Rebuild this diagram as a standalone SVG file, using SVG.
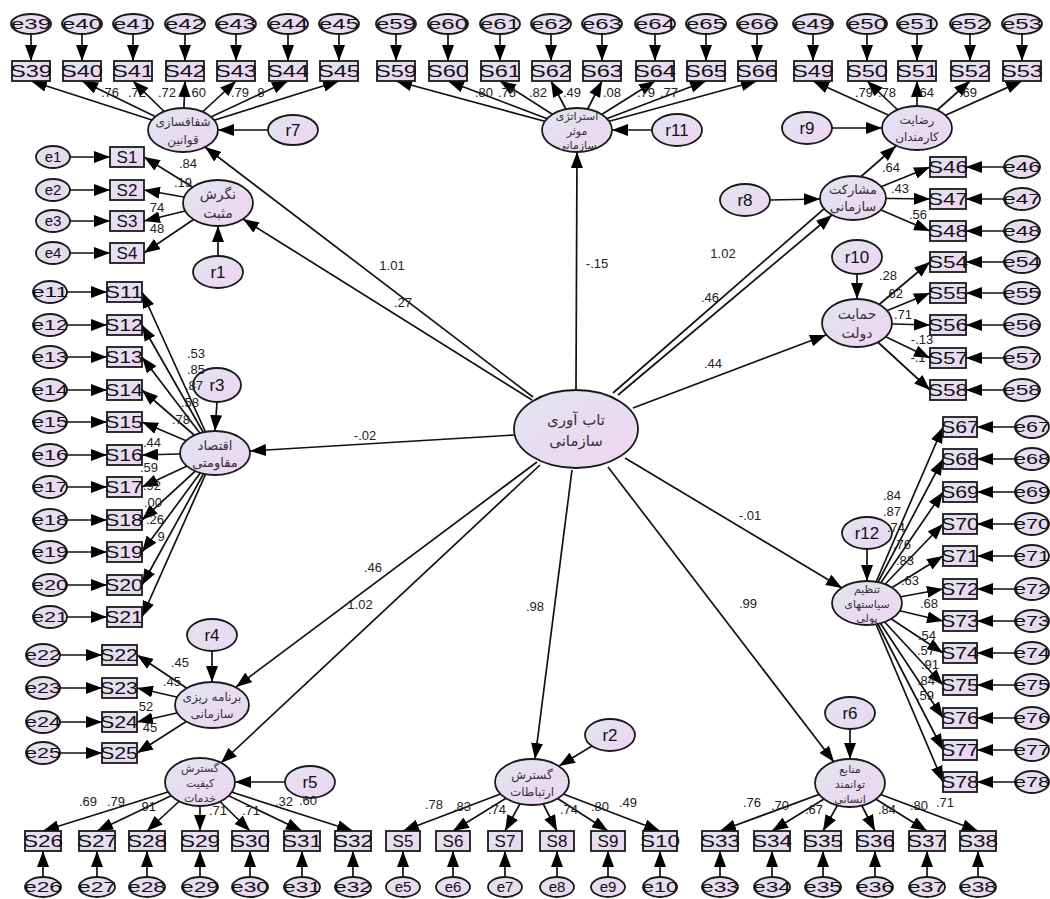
<svg xmlns="http://www.w3.org/2000/svg" width="1050" height="899" viewBox="0 0 1050 899">
<defs>
<linearGradient id="g" x1="0" y1="0" x2="1" y2="1"><stop offset="0" stop-color="#e1e5ef"/><stop offset="1" stop-color="#eed4f2"/></linearGradient>
<marker id="ah" markerUnits="userSpaceOnUse" markerWidth="16" markerHeight="12" refX="16" refY="6" orient="auto"><path d="M0,0 L16,6 L0,12 z" fill="#000"/></marker>
<style>
.n rect,.n ellipse{fill:url(#g);stroke:#1a1a1a;stroke-width:1.8}
.c line{stroke:#111;stroke-width:1.7;marker-end:url(#ah)}
.t{font-family:"Liberation Sans",Arial,sans-serif;fill:#111;text-anchor:middle}
.s{font-size:17px}
.e{font-size:15px}
.r{font-size:17px}
.num{font-family:"Liberation Sans",Arial,sans-serif;font-size:13px;fill:#222;text-anchor:middle}
.fa{font-family:"DejaVu Sans","Noto Sans",sans-serif;fill:#333;text-anchor:middle}
</style>
</defs>
<rect width="1050" height="899" fill="#fff"/>
<g id="connectors" class="c">
<line x1="533" y1="397" x2="205" y2="147"/>
<line x1="532" y1="400" x2="243" y2="219"/>
<line x1="576" y1="390" x2="577" y2="152"/>
<line x1="613" y1="393" x2="896" y2="146"/>
<line x1="618" y1="395" x2="832" y2="215"/>
<line x1="633" y1="408" x2="826" y2="335"/>
<line x1="514" y1="435" x2="250" y2="451"/>
<line x1="537" y1="462" x2="236" y2="687"/>
<line x1="540" y1="465" x2="221" y2="763"/>
<line x1="572" y1="470" x2="535" y2="759"/>
<line x1="608" y1="467" x2="834" y2="762"/>
<line x1="625" y1="458" x2="842" y2="588"/>
<line x1="268" y1="130" x2="218" y2="130"/>
<line x1="218" y1="256" x2="218" y2="226"/>
<line x1="217" y1="402" x2="215" y2="431"/>
<line x1="212" y1="651" x2="212" y2="682"/>
<line x1="285" y1="782" x2="235" y2="782"/>
<line x1="592" y1="746" x2="559" y2="766"/>
<line x1="850" y1="729" x2="850" y2="759"/>
<line x1="867" y1="549" x2="867" y2="581"/>
<line x1="857" y1="274" x2="857" y2="299"/>
<line x1="770" y1="200" x2="820" y2="199"/>
<line x1="832" y1="128" x2="882" y2="128"/>
<line x1="652" y1="130" x2="612" y2="130"/>
<line x1="183" y1="130" x2="31" y2="81"/><line x1="183" y1="130" x2="82" y2="81"/><line x1="183" y1="130" x2="133" y2="81"/><line x1="183" y1="130" x2="185" y2="81"/><line x1="183" y1="130" x2="236" y2="81"/><line x1="183" y1="130" x2="288" y2="81"/><line x1="183" y1="130" x2="339" y2="81"/>
<line x1="577" y1="130" x2="396" y2="81"/><line x1="577" y1="130" x2="448" y2="81"/><line x1="577" y1="130" x2="500" y2="81"/><line x1="577" y1="130" x2="551" y2="81"/><line x1="577" y1="130" x2="602" y2="81"/><line x1="577" y1="130" x2="655" y2="81"/><line x1="577" y1="130" x2="706" y2="81"/><line x1="577" y1="130" x2="757" y2="81"/>
<line x1="917" y1="128" x2="813" y2="81"/><line x1="917" y1="128" x2="867" y2="81"/><line x1="917" y1="128" x2="917" y2="81"/><line x1="917" y1="128" x2="970" y2="81"/><line x1="917" y1="128" x2="1022" y2="81"/>
<line x1="218" y1="203" x2="144" y2="157"/><line x1="218" y1="203" x2="144" y2="190"/><line x1="218" y1="203" x2="144" y2="221"/><line x1="218" y1="203" x2="144" y2="253"/>
<line x1="215" y1="453" x2="142" y2="292"/><line x1="215" y1="453" x2="142" y2="325"/><line x1="215" y1="453" x2="142" y2="357"/><line x1="215" y1="453" x2="142" y2="390"/><line x1="215" y1="453" x2="142" y2="422"/><line x1="215" y1="453" x2="142" y2="455"/><line x1="215" y1="453" x2="142" y2="487"/><line x1="215" y1="453" x2="142" y2="520"/><line x1="215" y1="453" x2="142" y2="552"/><line x1="215" y1="453" x2="142" y2="585"/><line x1="215" y1="453" x2="142" y2="617"/>
<line x1="212" y1="705" x2="137" y2="655"/><line x1="212" y1="705" x2="137" y2="688"/><line x1="212" y1="705" x2="137" y2="722"/><line x1="212" y1="705" x2="137" y2="753"/>
<line x1="200" y1="782" x2="43" y2="831"/><line x1="200" y1="782" x2="97" y2="831"/><line x1="200" y1="782" x2="147" y2="831"/><line x1="200" y1="782" x2="200" y2="831"/><line x1="200" y1="782" x2="250" y2="831"/><line x1="200" y1="782" x2="302" y2="831"/><line x1="200" y1="782" x2="353" y2="831"/>
<line x1="532" y1="782" x2="403" y2="831"/><line x1="532" y1="782" x2="453" y2="831"/><line x1="532" y1="782" x2="505" y2="831"/><line x1="532" y1="782" x2="557" y2="831"/><line x1="532" y1="782" x2="608" y2="831"/><line x1="532" y1="782" x2="660" y2="831"/>
<line x1="850" y1="783" x2="720" y2="831"/><line x1="850" y1="783" x2="772" y2="831"/><line x1="850" y1="783" x2="823" y2="831"/><line x1="850" y1="783" x2="875" y2="831"/><line x1="850" y1="783" x2="927" y2="831"/><line x1="850" y1="783" x2="978" y2="831"/>
<line x1="867" y1="603" x2="943" y2="427"/><line x1="867" y1="603" x2="943" y2="459"/><line x1="867" y1="603" x2="943" y2="492"/><line x1="867" y1="603" x2="943" y2="524"/><line x1="867" y1="603" x2="943" y2="556"/><line x1="867" y1="603" x2="943" y2="589"/><line x1="867" y1="603" x2="943" y2="621"/><line x1="867" y1="603" x2="943" y2="653"/><line x1="867" y1="603" x2="943" y2="685"/><line x1="867" y1="603" x2="943" y2="718"/><line x1="867" y1="603" x2="943" y2="750"/><line x1="867" y1="603" x2="943" y2="782"/>
<line x1="857" y1="323" x2="930" y2="262"/><line x1="857" y1="323" x2="930" y2="293"/><line x1="857" y1="323" x2="930" y2="325"/><line x1="857" y1="323" x2="930" y2="358"/><line x1="857" y1="323" x2="930" y2="390"/>
<line x1="853" y1="198" x2="930" y2="167"/><line x1="853" y1="198" x2="930" y2="199"/><line x1="853" y1="198" x2="930" y2="231"/>
<line x1="31" y1="34" x2="31" y2="61"/><line x1="82" y1="34" x2="82" y2="61"/><line x1="133" y1="34" x2="133" y2="61"/><line x1="185" y1="34" x2="185" y2="61"/><line x1="236" y1="34" x2="236" y2="61"/><line x1="288" y1="34" x2="288" y2="61"/><line x1="339" y1="34" x2="339" y2="61"/>
<line x1="396" y1="34" x2="396" y2="61"/><line x1="448" y1="34" x2="448" y2="61"/><line x1="500" y1="34" x2="500" y2="61"/><line x1="551" y1="34" x2="551" y2="61"/><line x1="602" y1="34" x2="602" y2="61"/><line x1="655" y1="34" x2="655" y2="61"/><line x1="706" y1="34" x2="706" y2="61"/><line x1="757" y1="34" x2="757" y2="61"/>
<line x1="813" y1="34" x2="813" y2="61"/><line x1="867" y1="34" x2="867" y2="61"/><line x1="917" y1="34" x2="917" y2="61"/><line x1="970" y1="34" x2="970" y2="61"/><line x1="1022" y1="34" x2="1022" y2="61"/>
<line x1="70" y1="157" x2="110" y2="157"/><line x1="70" y1="190" x2="110" y2="190"/><line x1="70" y1="221" x2="110" y2="221"/><line x1="70" y1="253" x2="110" y2="253"/>
<line x1="67" y1="292" x2="107" y2="292"/><line x1="67" y1="325" x2="107" y2="325"/><line x1="67" y1="357" x2="107" y2="357"/><line x1="67" y1="390" x2="107" y2="390"/><line x1="67" y1="422" x2="107" y2="422"/><line x1="67" y1="455" x2="107" y2="455"/><line x1="67" y1="487" x2="107" y2="487"/><line x1="67" y1="520" x2="107" y2="520"/><line x1="67" y1="552" x2="107" y2="552"/><line x1="67" y1="585" x2="107" y2="585"/><line x1="67" y1="617" x2="107" y2="617"/>
<line x1="60" y1="655" x2="102" y2="655"/><line x1="60" y1="688" x2="102" y2="688"/><line x1="60" y1="722" x2="102" y2="722"/><line x1="60" y1="753" x2="102" y2="753"/>
<line x1="43" y1="877" x2="43" y2="851"/><line x1="97" y1="877" x2="97" y2="851"/><line x1="147" y1="877" x2="147" y2="851"/><line x1="200" y1="877" x2="200" y2="851"/><line x1="250" y1="877" x2="250" y2="851"/><line x1="302" y1="877" x2="302" y2="851"/><line x1="353" y1="877" x2="353" y2="851"/>
<line x1="403" y1="877" x2="403" y2="851"/><line x1="453" y1="877" x2="453" y2="851"/><line x1="505" y1="877" x2="505" y2="851"/><line x1="557" y1="877" x2="557" y2="851"/><line x1="608" y1="877" x2="608" y2="851"/><line x1="660" y1="877" x2="660" y2="851"/>
<line x1="720" y1="877" x2="720" y2="851"/><line x1="772" y1="877" x2="772" y2="851"/><line x1="823" y1="877" x2="823" y2="851"/><line x1="875" y1="877" x2="875" y2="851"/><line x1="927" y1="877" x2="927" y2="851"/><line x1="978" y1="877" x2="978" y2="851"/>
<line x1="1015" y1="427" x2="977" y2="427"/><line x1="1015" y1="459" x2="977" y2="459"/><line x1="1015" y1="492" x2="977" y2="492"/><line x1="1015" y1="524" x2="977" y2="524"/><line x1="1015" y1="556" x2="977" y2="556"/><line x1="1015" y1="589" x2="977" y2="589"/><line x1="1015" y1="621" x2="977" y2="621"/><line x1="1015" y1="653" x2="977" y2="653"/><line x1="1015" y1="685" x2="977" y2="685"/><line x1="1015" y1="718" x2="977" y2="718"/><line x1="1015" y1="750" x2="977" y2="750"/><line x1="1015" y1="782" x2="977" y2="782"/>
<line x1="1004" y1="262" x2="966" y2="262"/><line x1="1004" y1="293" x2="966" y2="293"/><line x1="1004" y1="325" x2="966" y2="325"/><line x1="1004" y1="358" x2="966" y2="358"/><line x1="1004" y1="390" x2="966" y2="390"/>
<line x1="1004" y1="167" x2="966" y2="167"/><line x1="1004" y1="199" x2="966" y2="199"/><line x1="1004" y1="231" x2="966" y2="231"/>
</g>
<g class="n">
<g id="center"><ellipse cx="576" cy="429" rx="62" ry="39"/><text class="fa" x="576" y="425" font-size="15">تاب آوری</text><text class="fa" x="576" y="446" font-size="15">سازمانی</text></g>
<g id="L1"><ellipse cx="183" cy="130" rx="35" ry="22"/><text class="fa" x="183" y="126" font-size="12">شفافسازی</text><text class="fa" x="183" y="144" font-size="12">قوانین</text></g>
<g id="L2"><ellipse cx="218" cy="203" rx="35" ry="23"/><text class="fa" x="218" y="199" font-size="14">نگرش</text><text class="fa" x="218" y="218" font-size="14">مثبت</text></g>
<g id="L3"><ellipse cx="215" cy="453" rx="35" ry="22"/><text class="fa" x="215" y="450" font-size="13">اقتصاد</text><text class="fa" x="215" y="467" font-size="13">مقاومتی</text></g>
<g id="L4"><ellipse cx="212" cy="705" rx="37" ry="23"/><text class="fa" x="212" y="701" font-size="12">برنامه ریزی</text><text class="fa" x="212" y="718" font-size="12">سازمانی</text></g>
<g id="L5"><ellipse cx="200" cy="782" rx="35" ry="24"/><text class="fa" x="200" y="772" font-size="11">گسترش</text><text class="fa" x="200" y="787" font-size="11">کیفیت</text><text class="fa" x="200" y="802" font-size="11">خدمات</text></g>
<g id="L6"><ellipse cx="532" cy="782" rx="37" ry="23"/><text class="fa" x="532" y="779" font-size="12">گسترش</text><text class="fa" x="532" y="796" font-size="12">ارتباطات</text></g>
<g id="L7"><ellipse cx="850" cy="783" rx="35" ry="24"/><text class="fa" x="850" y="773" font-size="11">منابع</text><text class="fa" x="850" y="788" font-size="11">توانمند</text><text class="fa" x="850" y="803" font-size="11">انسانی</text></g>
<g id="L8"><ellipse cx="867" cy="603" rx="35" ry="22"/><text class="fa" x="867" y="593" font-size="11">تنظیم</text><text class="fa" x="867" y="608" font-size="11">سیاستهای</text><text class="fa" x="867" y="622" font-size="11">پولی</text></g>
<g id="L9"><ellipse cx="857" cy="323" rx="35" ry="24"/><text class="fa" x="857" y="319" font-size="14">حمایت</text><text class="fa" x="857" y="338" font-size="14">دولت</text></g>
<g id="L10"><ellipse cx="853" cy="198" rx="33" ry="22"/><text class="fa" x="853" y="194" font-size="13">مشارکت</text><text class="fa" x="853" y="211" font-size="13">سازمانی</text></g>
<g id="L11"><ellipse cx="917" cy="128" rx="35" ry="22"/><text class="fa" x="917" y="124" font-size="12">رضایت</text><text class="fa" x="917" y="141" font-size="12">کارمندان</text></g>
<g id="L12"><ellipse cx="577" cy="130" rx="35" ry="22"/><text class="fa" x="577" y="120" font-size="11">استراتژی</text><text class="fa" x="577" y="135" font-size="11">موثر</text><text class="fa" x="577" y="149" font-size="11">سازمانی</text></g>
<g id="r7"><ellipse cx="293" cy="130" rx="25" ry="15"/><text class="t r" x="293" y="136">r7</text></g>
<g id="r1"><ellipse cx="218" cy="272" rx="25" ry="16"/><text class="t r" x="218" y="278">r1</text></g>
<g id="r3"><ellipse cx="217" cy="385" rx="24" ry="17"/><text class="t r" x="217" y="391">r3</text></g>
<g id="r4"><ellipse cx="212" cy="635" rx="25" ry="16"/><text class="t r" x="212" y="641">r4</text></g>
<g id="r5"><ellipse cx="310" cy="782" rx="25" ry="16"/><text class="t r" x="310" y="788">r5</text></g>
<g id="r2"><ellipse cx="610" cy="735" rx="25" ry="16"/><text class="t r" x="610" y="741">r2</text></g>
<g id="r6"><ellipse cx="850" cy="713" rx="25" ry="16"/><text class="t r" x="850" y="719">r6</text></g>
<g id="r12"><ellipse cx="867" cy="533" rx="25" ry="16"/><text class="t r" x="867" y="539">r12</text></g>
<g id="r10"><ellipse cx="857" cy="257" rx="25" ry="17"/><text class="t r" x="857" y="263">r10</text></g>
<g id="r8"><ellipse cx="745" cy="200" rx="25" ry="16"/><text class="t r" x="745" y="206">r8</text></g>
<g id="r9"><ellipse cx="807" cy="128" rx="25" ry="16"/><text class="t r" x="807" y="134">r9</text></g>
<g id="r11"><ellipse cx="677" cy="130" rx="25" ry="16"/><text class="t r" x="677" y="136">r11</text></g>

<g id="S39"><rect x="12" y="61" width="38" height="20"/><text class="t s" x="31" y="77" textLength="42" lengthAdjust="spacingAndGlyphs">S39</text></g>
<g id="S40"><rect x="63" y="61" width="38" height="20"/><text class="t s" x="82" y="77" textLength="42" lengthAdjust="spacingAndGlyphs">S40</text></g>
<g id="S41"><rect x="114" y="61" width="38" height="20"/><text class="t s" x="133" y="77" textLength="42" lengthAdjust="spacingAndGlyphs">S41</text></g>
<g id="S42"><rect x="166" y="61" width="38" height="20"/><text class="t s" x="185" y="77" textLength="42" lengthAdjust="spacingAndGlyphs">S42</text></g>
<g id="S43"><rect x="217" y="61" width="38" height="20"/><text class="t s" x="236" y="77" textLength="42" lengthAdjust="spacingAndGlyphs">S43</text></g>
<g id="S44"><rect x="269" y="61" width="38" height="20"/><text class="t s" x="288" y="77" textLength="42" lengthAdjust="spacingAndGlyphs">S44</text></g>
<g id="S45"><rect x="320" y="61" width="38" height="20"/><text class="t s" x="339" y="77" textLength="42" lengthAdjust="spacingAndGlyphs">S45</text></g>
<g id="e39"><ellipse cx="31" cy="24" rx="20" ry="10"/><text class="t e" x="31" y="29" textLength="40" lengthAdjust="spacingAndGlyphs">e39</text></g>
<g id="e40"><ellipse cx="82" cy="24" rx="20" ry="10"/><text class="t e" x="82" y="29" textLength="40" lengthAdjust="spacingAndGlyphs">e40</text></g>
<g id="e41"><ellipse cx="133" cy="24" rx="20" ry="10"/><text class="t e" x="133" y="29" textLength="40" lengthAdjust="spacingAndGlyphs">e41</text></g>
<g id="e42"><ellipse cx="185" cy="24" rx="20" ry="10"/><text class="t e" x="185" y="29" textLength="40" lengthAdjust="spacingAndGlyphs">e42</text></g>
<g id="e43"><ellipse cx="236" cy="24" rx="20" ry="10"/><text class="t e" x="236" y="29" textLength="40" lengthAdjust="spacingAndGlyphs">e43</text></g>
<g id="e44"><ellipse cx="288" cy="24" rx="20" ry="10"/><text class="t e" x="288" y="29" textLength="40" lengthAdjust="spacingAndGlyphs">e44</text></g>
<g id="e45"><ellipse cx="339" cy="24" rx="20" ry="10"/><text class="t e" x="339" y="29" textLength="40" lengthAdjust="spacingAndGlyphs">e45</text></g>

<g id="S59"><rect x="377" y="61" width="38" height="20"/><text class="t s" x="396" y="77" textLength="42" lengthAdjust="spacingAndGlyphs">S59</text></g>
<g id="S60"><rect x="429" y="61" width="38" height="20"/><text class="t s" x="448" y="77" textLength="42" lengthAdjust="spacingAndGlyphs">S60</text></g>
<g id="S61"><rect x="481" y="61" width="38" height="20"/><text class="t s" x="500" y="77" textLength="42" lengthAdjust="spacingAndGlyphs">S61</text></g>
<g id="S62"><rect x="532" y="61" width="38" height="20"/><text class="t s" x="551" y="77" textLength="42" lengthAdjust="spacingAndGlyphs">S62</text></g>
<g id="S63"><rect x="583" y="61" width="38" height="20"/><text class="t s" x="602" y="77" textLength="42" lengthAdjust="spacingAndGlyphs">S63</text></g>
<g id="S64"><rect x="636" y="61" width="38" height="20"/><text class="t s" x="655" y="77" textLength="42" lengthAdjust="spacingAndGlyphs">S64</text></g>
<g id="S65"><rect x="687" y="61" width="38" height="20"/><text class="t s" x="706" y="77" textLength="42" lengthAdjust="spacingAndGlyphs">S65</text></g>
<g id="S66"><rect x="738" y="61" width="38" height="20"/><text class="t s" x="757" y="77" textLength="42" lengthAdjust="spacingAndGlyphs">S66</text></g>
<g id="e59"><ellipse cx="396" cy="24" rx="20" ry="10"/><text class="t e" x="396" y="29" textLength="40" lengthAdjust="spacingAndGlyphs">e59</text></g>
<g id="e60"><ellipse cx="448" cy="24" rx="20" ry="10"/><text class="t e" x="448" y="29" textLength="40" lengthAdjust="spacingAndGlyphs">e60</text></g>
<g id="e61"><ellipse cx="500" cy="24" rx="20" ry="10"/><text class="t e" x="500" y="29" textLength="40" lengthAdjust="spacingAndGlyphs">e61</text></g>
<g id="e62"><ellipse cx="551" cy="24" rx="20" ry="10"/><text class="t e" x="551" y="29" textLength="40" lengthAdjust="spacingAndGlyphs">e62</text></g>
<g id="e63"><ellipse cx="602" cy="24" rx="20" ry="10"/><text class="t e" x="602" y="29" textLength="40" lengthAdjust="spacingAndGlyphs">e63</text></g>
<g id="e64"><ellipse cx="655" cy="24" rx="20" ry="10"/><text class="t e" x="655" y="29" textLength="40" lengthAdjust="spacingAndGlyphs">e64</text></g>
<g id="e65"><ellipse cx="706" cy="24" rx="20" ry="10"/><text class="t e" x="706" y="29" textLength="40" lengthAdjust="spacingAndGlyphs">e65</text></g>
<g id="e66"><ellipse cx="757" cy="24" rx="20" ry="10"/><text class="t e" x="757" y="29" textLength="40" lengthAdjust="spacingAndGlyphs">e66</text></g>

<g id="S49"><rect x="794" y="61" width="38" height="20"/><text class="t s" x="813" y="77" textLength="42" lengthAdjust="spacingAndGlyphs">S49</text></g>
<g id="S50"><rect x="848" y="61" width="38" height="20"/><text class="t s" x="867" y="77" textLength="42" lengthAdjust="spacingAndGlyphs">S50</text></g>
<g id="S51"><rect x="898" y="61" width="38" height="20"/><text class="t s" x="917" y="77" textLength="42" lengthAdjust="spacingAndGlyphs">S51</text></g>
<g id="S52"><rect x="951" y="61" width="38" height="20"/><text class="t s" x="970" y="77" textLength="42" lengthAdjust="spacingAndGlyphs">S52</text></g>
<g id="S53"><rect x="1003" y="61" width="38" height="20"/><text class="t s" x="1022" y="77" textLength="42" lengthAdjust="spacingAndGlyphs">S53</text></g>
<g id="e49"><ellipse cx="813" cy="24" rx="20" ry="10"/><text class="t e" x="813" y="29" textLength="40" lengthAdjust="spacingAndGlyphs">e49</text></g>
<g id="e50"><ellipse cx="867" cy="24" rx="20" ry="10"/><text class="t e" x="867" y="29" textLength="40" lengthAdjust="spacingAndGlyphs">e50</text></g>
<g id="e51"><ellipse cx="917" cy="24" rx="20" ry="10"/><text class="t e" x="917" y="29" textLength="40" lengthAdjust="spacingAndGlyphs">e51</text></g>
<g id="e52"><ellipse cx="970" cy="24" rx="20" ry="10"/><text class="t e" x="970" y="29" textLength="40" lengthAdjust="spacingAndGlyphs">e52</text></g>
<g id="e53"><ellipse cx="1022" cy="24" rx="20" ry="10"/><text class="t e" x="1022" y="29" textLength="40" lengthAdjust="spacingAndGlyphs">e53</text></g>

<g id="S1"><rect x="110" y="147" width="34" height="20"/><text class="t s" x="127" y="163">S1</text></g>
<g id="S2"><rect x="110" y="180" width="34" height="20"/><text class="t s" x="127" y="196">S2</text></g>
<g id="S3"><rect x="110" y="211" width="34" height="20"/><text class="t s" x="127" y="227">S3</text></g>
<g id="S4"><rect x="110" y="243" width="34" height="20"/><text class="t s" x="127" y="259">S4</text></g>
<g id="e1"><ellipse cx="53" cy="157" rx="17" ry="11"/><text class="t e" x="53" y="162">e1</text></g>
<g id="e2"><ellipse cx="53" cy="190" rx="17" ry="11"/><text class="t e" x="53" y="195">e2</text></g>
<g id="e3"><ellipse cx="53" cy="221" rx="17" ry="11"/><text class="t e" x="53" y="226">e3</text></g>
<g id="e4"><ellipse cx="53" cy="253" rx="17" ry="11"/><text class="t e" x="53" y="258">e4</text></g>

<g id="S11"><rect x="107" y="282" width="35" height="20"/><text class="t s" x="124" y="298" textLength="38" lengthAdjust="spacingAndGlyphs">S11</text></g>
<g id="S12"><rect x="107" y="315" width="35" height="20"/><text class="t s" x="124" y="331" textLength="38" lengthAdjust="spacingAndGlyphs">S12</text></g>
<g id="S13"><rect x="107" y="347" width="35" height="20"/><text class="t s" x="124" y="363" textLength="38" lengthAdjust="spacingAndGlyphs">S13</text></g>
<g id="S14"><rect x="107" y="380" width="35" height="20"/><text class="t s" x="124" y="396" textLength="38" lengthAdjust="spacingAndGlyphs">S14</text></g>
<g id="S15"><rect x="107" y="412" width="35" height="20"/><text class="t s" x="124" y="428" textLength="38" lengthAdjust="spacingAndGlyphs">S15</text></g>
<g id="S16"><rect x="107" y="445" width="35" height="20"/><text class="t s" x="124" y="461" textLength="38" lengthAdjust="spacingAndGlyphs">S16</text></g>
<g id="S17"><rect x="107" y="477" width="35" height="20"/><text class="t s" x="124" y="493" textLength="38" lengthAdjust="spacingAndGlyphs">S17</text></g>
<g id="S18"><rect x="107" y="510" width="35" height="20"/><text class="t s" x="124" y="526" textLength="38" lengthAdjust="spacingAndGlyphs">S18</text></g>
<g id="S19"><rect x="107" y="542" width="35" height="20"/><text class="t s" x="124" y="558" textLength="38" lengthAdjust="spacingAndGlyphs">S19</text></g>
<g id="S20"><rect x="107" y="575" width="35" height="20"/><text class="t s" x="124" y="591" textLength="38" lengthAdjust="spacingAndGlyphs">S20</text></g>
<g id="S21"><rect x="107" y="607" width="35" height="20"/><text class="t s" x="124" y="623" textLength="38" lengthAdjust="spacingAndGlyphs">S21</text></g>
<g id="e11"><ellipse cx="50" cy="292" rx="17" ry="11"/><text class="t e" x="50" y="297" textLength="36" lengthAdjust="spacingAndGlyphs">e11</text></g>
<g id="e12"><ellipse cx="50" cy="325" rx="17" ry="11"/><text class="t e" x="50" y="330" textLength="36" lengthAdjust="spacingAndGlyphs">e12</text></g>
<g id="e13"><ellipse cx="50" cy="357" rx="17" ry="11"/><text class="t e" x="50" y="362" textLength="36" lengthAdjust="spacingAndGlyphs">e13</text></g>
<g id="e14"><ellipse cx="50" cy="390" rx="17" ry="11"/><text class="t e" x="50" y="395" textLength="36" lengthAdjust="spacingAndGlyphs">e14</text></g>
<g id="e15"><ellipse cx="50" cy="422" rx="17" ry="11"/><text class="t e" x="50" y="427" textLength="36" lengthAdjust="spacingAndGlyphs">e15</text></g>
<g id="e16"><ellipse cx="50" cy="455" rx="17" ry="11"/><text class="t e" x="50" y="460" textLength="36" lengthAdjust="spacingAndGlyphs">e16</text></g>
<g id="e17"><ellipse cx="50" cy="487" rx="17" ry="11"/><text class="t e" x="50" y="492" textLength="36" lengthAdjust="spacingAndGlyphs">e17</text></g>
<g id="e18"><ellipse cx="50" cy="520" rx="17" ry="11"/><text class="t e" x="50" y="525" textLength="36" lengthAdjust="spacingAndGlyphs">e18</text></g>
<g id="e19"><ellipse cx="50" cy="552" rx="17" ry="11"/><text class="t e" x="50" y="557" textLength="36" lengthAdjust="spacingAndGlyphs">e19</text></g>
<g id="e20"><ellipse cx="50" cy="585" rx="17" ry="11"/><text class="t e" x="50" y="590" textLength="36" lengthAdjust="spacingAndGlyphs">e20</text></g>
<g id="e21"><ellipse cx="50" cy="617" rx="17" ry="11"/><text class="t e" x="50" y="622" textLength="36" lengthAdjust="spacingAndGlyphs">e21</text></g>

<g id="S22"><rect x="102" y="645" width="35" height="20"/><text class="t s" x="119" y="661" textLength="38" lengthAdjust="spacingAndGlyphs">S22</text></g>
<g id="S23"><rect x="102" y="678" width="35" height="20"/><text class="t s" x="119" y="694" textLength="38" lengthAdjust="spacingAndGlyphs">S23</text></g>
<g id="S24"><rect x="102" y="712" width="35" height="20"/><text class="t s" x="119" y="728" textLength="38" lengthAdjust="spacingAndGlyphs">S24</text></g>
<g id="S25"><rect x="102" y="743" width="35" height="20"/><text class="t s" x="119" y="759" textLength="38" lengthAdjust="spacingAndGlyphs">S25</text></g>
<g id="e22"><ellipse cx="43" cy="655" rx="17" ry="11"/><text class="t e" x="43" y="660" textLength="36" lengthAdjust="spacingAndGlyphs">e22</text></g>
<g id="e23"><ellipse cx="43" cy="688" rx="17" ry="11"/><text class="t e" x="43" y="693" textLength="36" lengthAdjust="spacingAndGlyphs">e23</text></g>
<g id="e24"><ellipse cx="43" cy="722" rx="17" ry="11"/><text class="t e" x="43" y="727" textLength="36" lengthAdjust="spacingAndGlyphs">e24</text></g>
<g id="e25"><ellipse cx="43" cy="753" rx="17" ry="11"/><text class="t e" x="43" y="758" textLength="36" lengthAdjust="spacingAndGlyphs">e25</text></g>

<g id="S26"><rect x="25" y="831" width="36" height="20"/><text class="t s" x="43" y="847" textLength="40" lengthAdjust="spacingAndGlyphs">S26</text></g>
<g id="S27"><rect x="79" y="831" width="36" height="20"/><text class="t s" x="97" y="847" textLength="40" lengthAdjust="spacingAndGlyphs">S27</text></g>
<g id="S28"><rect x="129" y="831" width="36" height="20"/><text class="t s" x="147" y="847" textLength="40" lengthAdjust="spacingAndGlyphs">S28</text></g>
<g id="S29"><rect x="182" y="831" width="36" height="20"/><text class="t s" x="200" y="847" textLength="40" lengthAdjust="spacingAndGlyphs">S29</text></g>
<g id="S30"><rect x="232" y="831" width="36" height="20"/><text class="t s" x="250" y="847" textLength="40" lengthAdjust="spacingAndGlyphs">S30</text></g>
<g id="S31"><rect x="284" y="831" width="36" height="20"/><text class="t s" x="302" y="847" textLength="40" lengthAdjust="spacingAndGlyphs">S31</text></g>
<g id="S32"><rect x="335" y="831" width="36" height="20"/><text class="t s" x="353" y="847" textLength="40" lengthAdjust="spacingAndGlyphs">S32</text></g>
<g id="e26"><ellipse cx="43" cy="887" rx="18" ry="10"/><text class="t e" x="43" y="892" textLength="38" lengthAdjust="spacingAndGlyphs">e26</text></g>
<g id="e27"><ellipse cx="97" cy="887" rx="18" ry="10"/><text class="t e" x="97" y="892" textLength="38" lengthAdjust="spacingAndGlyphs">e27</text></g>
<g id="e28"><ellipse cx="147" cy="887" rx="18" ry="10"/><text class="t e" x="147" y="892" textLength="38" lengthAdjust="spacingAndGlyphs">e28</text></g>
<g id="e29"><ellipse cx="200" cy="887" rx="18" ry="10"/><text class="t e" x="200" y="892" textLength="38" lengthAdjust="spacingAndGlyphs">e29</text></g>
<g id="e30"><ellipse cx="250" cy="887" rx="18" ry="10"/><text class="t e" x="250" y="892" textLength="38" lengthAdjust="spacingAndGlyphs">e30</text></g>
<g id="e31"><ellipse cx="302" cy="887" rx="18" ry="10"/><text class="t e" x="302" y="892" textLength="38" lengthAdjust="spacingAndGlyphs">e31</text></g>
<g id="e32"><ellipse cx="353" cy="887" rx="18" ry="10"/><text class="t e" x="353" y="892" textLength="38" lengthAdjust="spacingAndGlyphs">e32</text></g>

<g id="S5"><rect x="386" y="831" width="34" height="20"/><text class="t s" x="403" y="847">S5</text></g>
<g id="S6"><rect x="436" y="831" width="34" height="20"/><text class="t s" x="453" y="847">S6</text></g>
<g id="S7"><rect x="488" y="831" width="34" height="20"/><text class="t s" x="505" y="847">S7</text></g>
<g id="S8"><rect x="540" y="831" width="34" height="20"/><text class="t s" x="557" y="847">S8</text></g>
<g id="S9"><rect x="591" y="831" width="34" height="20"/><text class="t s" x="608" y="847">S9</text></g>
<g id="S10"><rect x="643" y="831" width="34" height="20"/><text class="t s" x="660" y="847" textLength="40" lengthAdjust="spacingAndGlyphs">S10</text></g>
<g id="e5"><ellipse cx="403" cy="887" rx="17" ry="10"/><text class="t e" x="403" y="892">e5</text></g>
<g id="e6"><ellipse cx="453" cy="887" rx="17" ry="10"/><text class="t e" x="453" y="892">e6</text></g>
<g id="e7"><ellipse cx="505" cy="887" rx="17" ry="10"/><text class="t e" x="505" y="892">e7</text></g>
<g id="e8"><ellipse cx="557" cy="887" rx="17" ry="10"/><text class="t e" x="557" y="892">e8</text></g>
<g id="e9"><ellipse cx="608" cy="887" rx="17" ry="10"/><text class="t e" x="608" y="892">e9</text></g>
<g id="e10"><ellipse cx="660" cy="887" rx="17" ry="10"/><text class="t e" x="660" y="892" textLength="36" lengthAdjust="spacingAndGlyphs">e10</text></g>

<g id="S33"><rect x="702" y="831" width="36" height="20"/><text class="t s" x="720" y="847" textLength="40" lengthAdjust="spacingAndGlyphs">S33</text></g>
<g id="S34"><rect x="754" y="831" width="36" height="20"/><text class="t s" x="772" y="847" textLength="40" lengthAdjust="spacingAndGlyphs">S34</text></g>
<g id="S35"><rect x="805" y="831" width="36" height="20"/><text class="t s" x="823" y="847" textLength="40" lengthAdjust="spacingAndGlyphs">S35</text></g>
<g id="S36"><rect x="857" y="831" width="36" height="20"/><text class="t s" x="875" y="847" textLength="40" lengthAdjust="spacingAndGlyphs">S36</text></g>
<g id="S37"><rect x="909" y="831" width="36" height="20"/><text class="t s" x="927" y="847" textLength="40" lengthAdjust="spacingAndGlyphs">S37</text></g>
<g id="S38"><rect x="960" y="831" width="36" height="20"/><text class="t s" x="978" y="847" textLength="40" lengthAdjust="spacingAndGlyphs">S38</text></g>
<g id="e33"><ellipse cx="720" cy="887" rx="18" ry="10"/><text class="t e" x="720" y="892" textLength="38" lengthAdjust="spacingAndGlyphs">e33</text></g>
<g id="e34"><ellipse cx="772" cy="887" rx="18" ry="10"/><text class="t e" x="772" y="892" textLength="38" lengthAdjust="spacingAndGlyphs">e34</text></g>
<g id="e35"><ellipse cx="823" cy="887" rx="18" ry="10"/><text class="t e" x="823" y="892" textLength="38" lengthAdjust="spacingAndGlyphs">e35</text></g>
<g id="e36"><ellipse cx="875" cy="887" rx="18" ry="10"/><text class="t e" x="875" y="892" textLength="38" lengthAdjust="spacingAndGlyphs">e36</text></g>
<g id="e37"><ellipse cx="927" cy="887" rx="18" ry="10"/><text class="t e" x="927" y="892" textLength="38" lengthAdjust="spacingAndGlyphs">e37</text></g>
<g id="e38"><ellipse cx="978" cy="887" rx="18" ry="10"/><text class="t e" x="978" y="892" textLength="38" lengthAdjust="spacingAndGlyphs">e38</text></g>

<g id="S67"><rect x="943" y="417" width="34" height="20"/><text class="t s" x="960" y="433" textLength="38" lengthAdjust="spacingAndGlyphs">S67</text></g>
<g id="S68"><rect x="943" y="449" width="34" height="20"/><text class="t s" x="960" y="465" textLength="38" lengthAdjust="spacingAndGlyphs">S68</text></g>
<g id="S69"><rect x="943" y="482" width="34" height="20"/><text class="t s" x="960" y="498" textLength="38" lengthAdjust="spacingAndGlyphs">S69</text></g>
<g id="S70"><rect x="943" y="514" width="34" height="20"/><text class="t s" x="960" y="530" textLength="38" lengthAdjust="spacingAndGlyphs">S70</text></g>
<g id="S71"><rect x="943" y="546" width="34" height="20"/><text class="t s" x="960" y="562" textLength="38" lengthAdjust="spacingAndGlyphs">S71</text></g>
<g id="S72"><rect x="943" y="579" width="34" height="20"/><text class="t s" x="960" y="595" textLength="38" lengthAdjust="spacingAndGlyphs">S72</text></g>
<g id="S73"><rect x="943" y="611" width="34" height="20"/><text class="t s" x="960" y="627" textLength="38" lengthAdjust="spacingAndGlyphs">S73</text></g>
<g id="S74"><rect x="943" y="643" width="34" height="20"/><text class="t s" x="960" y="659" textLength="38" lengthAdjust="spacingAndGlyphs">S74</text></g>
<g id="S75"><rect x="943" y="675" width="34" height="20"/><text class="t s" x="960" y="691" textLength="38" lengthAdjust="spacingAndGlyphs">S75</text></g>
<g id="S76"><rect x="943" y="708" width="34" height="20"/><text class="t s" x="960" y="724" textLength="38" lengthAdjust="spacingAndGlyphs">S76</text></g>
<g id="S77"><rect x="943" y="740" width="34" height="20"/><text class="t s" x="960" y="756" textLength="38" lengthAdjust="spacingAndGlyphs">S77</text></g>
<g id="S78"><rect x="943" y="772" width="34" height="20"/><text class="t s" x="960" y="788" textLength="38" lengthAdjust="spacingAndGlyphs">S78</text></g>
<g id="e67"><ellipse cx="1032" cy="427" rx="17" ry="11"/><text class="t e" x="1032" y="432" textLength="36" lengthAdjust="spacingAndGlyphs">e67</text></g>
<g id="e68"><ellipse cx="1032" cy="459" rx="17" ry="11"/><text class="t e" x="1032" y="464" textLength="36" lengthAdjust="spacingAndGlyphs">e68</text></g>
<g id="e69"><ellipse cx="1032" cy="492" rx="17" ry="11"/><text class="t e" x="1032" y="497" textLength="36" lengthAdjust="spacingAndGlyphs">e69</text></g>
<g id="e70"><ellipse cx="1032" cy="524" rx="17" ry="11"/><text class="t e" x="1032" y="529" textLength="36" lengthAdjust="spacingAndGlyphs">e70</text></g>
<g id="e71"><ellipse cx="1032" cy="556" rx="17" ry="11"/><text class="t e" x="1032" y="561" textLength="36" lengthAdjust="spacingAndGlyphs">e71</text></g>
<g id="e72"><ellipse cx="1032" cy="589" rx="17" ry="11"/><text class="t e" x="1032" y="594" textLength="36" lengthAdjust="spacingAndGlyphs">e72</text></g>
<g id="e73"><ellipse cx="1032" cy="621" rx="17" ry="11"/><text class="t e" x="1032" y="626" textLength="36" lengthAdjust="spacingAndGlyphs">e73</text></g>
<g id="e74"><ellipse cx="1032" cy="653" rx="17" ry="11"/><text class="t e" x="1032" y="658" textLength="36" lengthAdjust="spacingAndGlyphs">e74</text></g>
<g id="e75"><ellipse cx="1032" cy="685" rx="17" ry="11"/><text class="t e" x="1032" y="690" textLength="36" lengthAdjust="spacingAndGlyphs">e75</text></g>
<g id="e76"><ellipse cx="1032" cy="718" rx="17" ry="11"/><text class="t e" x="1032" y="723" textLength="36" lengthAdjust="spacingAndGlyphs">e76</text></g>
<g id="e77"><ellipse cx="1032" cy="750" rx="17" ry="11"/><text class="t e" x="1032" y="755" textLength="36" lengthAdjust="spacingAndGlyphs">e77</text></g>
<g id="e78"><ellipse cx="1032" cy="782" rx="17" ry="11"/><text class="t e" x="1032" y="787" textLength="36" lengthAdjust="spacingAndGlyphs">e78</text></g>

<g id="S54"><rect x="930" y="252" width="36" height="20"/><text class="t s" x="948" y="268" textLength="40" lengthAdjust="spacingAndGlyphs">S54</text></g>
<g id="S55"><rect x="930" y="283" width="36" height="20"/><text class="t s" x="948" y="299" textLength="40" lengthAdjust="spacingAndGlyphs">S55</text></g>
<g id="S56"><rect x="930" y="315" width="36" height="20"/><text class="t s" x="948" y="331" textLength="40" lengthAdjust="spacingAndGlyphs">S56</text></g>
<g id="S57"><rect x="930" y="348" width="36" height="20"/><text class="t s" x="948" y="364" textLength="40" lengthAdjust="spacingAndGlyphs">S57</text></g>
<g id="S58"><rect x="930" y="380" width="36" height="20"/><text class="t s" x="948" y="396" textLength="40" lengthAdjust="spacingAndGlyphs">S58</text></g>
<g id="e54"><ellipse cx="1022" cy="262" rx="18" ry="11"/><text class="t e" x="1022" y="267" textLength="38" lengthAdjust="spacingAndGlyphs">e54</text></g>
<g id="e55"><ellipse cx="1022" cy="293" rx="18" ry="11"/><text class="t e" x="1022" y="298" textLength="38" lengthAdjust="spacingAndGlyphs">e55</text></g>
<g id="e56"><ellipse cx="1022" cy="325" rx="18" ry="11"/><text class="t e" x="1022" y="330" textLength="38" lengthAdjust="spacingAndGlyphs">e56</text></g>
<g id="e57"><ellipse cx="1022" cy="358" rx="18" ry="11"/><text class="t e" x="1022" y="363" textLength="38" lengthAdjust="spacingAndGlyphs">e57</text></g>
<g id="e58"><ellipse cx="1022" cy="390" rx="18" ry="11"/><text class="t e" x="1022" y="395" textLength="38" lengthAdjust="spacingAndGlyphs">e58</text></g>

<g id="S46"><rect x="930" y="157" width="36" height="20"/><text class="t s" x="948" y="173" textLength="40" lengthAdjust="spacingAndGlyphs">S46</text></g>
<g id="S47"><rect x="930" y="189" width="36" height="20"/><text class="t s" x="948" y="205" textLength="40" lengthAdjust="spacingAndGlyphs">S47</text></g>
<g id="S48"><rect x="930" y="221" width="36" height="20"/><text class="t s" x="948" y="237" textLength="40" lengthAdjust="spacingAndGlyphs">S48</text></g>
<g id="e46"><ellipse cx="1022" cy="167" rx="18" ry="11"/><text class="t e" x="1022" y="172" textLength="38" lengthAdjust="spacingAndGlyphs">e46</text></g>
<g id="e47"><ellipse cx="1022" cy="199" rx="18" ry="11"/><text class="t e" x="1022" y="204" textLength="38" lengthAdjust="spacingAndGlyphs">e47</text></g>
<g id="e48"><ellipse cx="1022" cy="231" rx="18" ry="11"/><text class="t e" x="1022" y="236" textLength="38" lengthAdjust="spacingAndGlyphs">e48</text></g>
</g>
<g id="labels" class="num">
<text x="392" y="270">1.01</text><text x="403" y="307">.27</text><text x="597" y="268">-.15</text>
<text x="723" y="258">1.02</text><text x="710" y="302">.46</text><text x="713" y="368">.44</text>
<text x="365" y="440">-.02</text><text x="750" y="520">-.01</text>
<text x="373" y="572">.46</text><text x="360" y="609">1.02</text><text x="535" y="611">.98</text><text x="748" y="608">.99</text>
<text x="110" y="97">.76</text><text x="137" y="97">.72</text><text x="167" y="97">.72</text><text x="197" y="97">.60</text><text x="240" y="97">.79</text><text x="259" y="97">.8</text>
<text x="484" y="97">.80</text><text x="507" y="97">.75</text><text x="538" y="97">.82</text><text x="572" y="97">.49</text><text x="612" y="97">.08</text><text x="646" y="97">.79</text><text x="669" y="97">.77</text>
<text x="864" y="97">.79</text><text x="887" y="97">.78</text><text x="925" y="97">.64</text><text x="968" y="97">.69</text>
<text x="891" y="172">.64</text><text x="900" y="193">.43</text><text x="918" y="219">.56</text>
<text x="888" y="280">.28</text><text x="894" y="298">.62</text><text x="903" y="319">.71</text><text x="922" y="344">-.13</text><text x="918" y="362">-.1</text>
<text x="188" y="168">.84</text><text x="183" y="187">.19</text><text x="157" y="212">74</text><text x="157" y="233">48</text>
<text x="196" y="358">.53</text><text x="196" y="374">.85</text><text x="194" y="390">.87</text><text x="190" y="407">.58</text><text x="181" y="424">.78</text><text x="152" y="447">.44</text><text x="149" y="472">.59</text><text x="152" y="490">.92</text><text x="153" y="507">.00</text><text x="155" y="524">.26</text><text x="161" y="541">9</text>
<text x="180" y="667">.45</text><text x="172" y="686">.45</text><text x="146" y="711">52</text><text x="150" y="732">45</text>
<text x="88" y="806">.69</text><text x="116" y="806">.79</text><text x="147" y="811">.91</text><text x="218" y="815">.71</text><text x="251" y="815">.71</text><text x="284" y="806">.32</text><text x="308" y="805">.60</text>
<text x="434" y="809">.78</text><text x="462" y="811">.83</text><text x="497" y="814">.74</text><text x="569" y="814">.74</text><text x="600" y="811">.80</text><text x="628" y="807">.49</text>
<text x="752" y="807">.76</text><text x="780" y="810">.70</text><text x="814" y="814">.67</text><text x="887" y="814">.84</text><text x="919" y="810">.80</text><text x="945" y="807">.71</text>
<text x="892" y="500">.84</text><text x="892" y="516">.87</text><text x="896" y="532">.74</text><text x="902" y="549">.76</text><text x="905" y="565">.83</text><text x="910" y="585">.63</text><text x="929" y="608">.68</text><text x="927" y="640">.54</text><text x="926" y="655">.57</text><text x="930" y="669">.91</text><text x="926" y="685">.84</text><text x="925" y="700">.59</text>
</g>
</svg>
